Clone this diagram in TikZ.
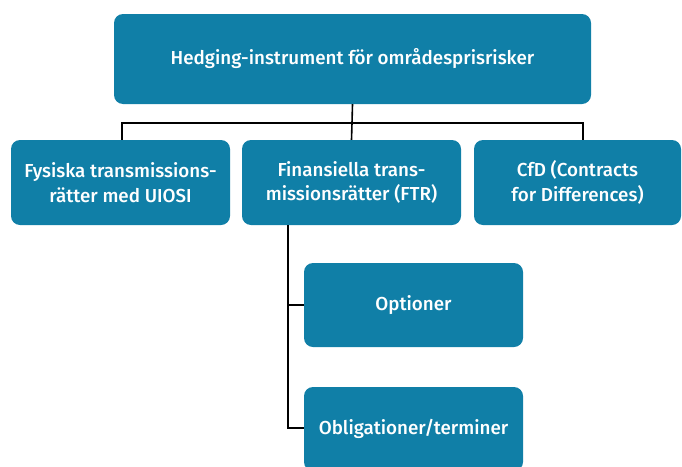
\documentclass[tikz,border=0pt]{standalone}
\usepackage{fontspec}
\setmainfont{Fira Sans}[UprightFont=* Medium]
\definecolor{boxblue}{RGB}{16,127,167}
\tikzset{
  box/.style={fill=boxblue, rounded corners=9pt, text=white, align=center,
    font=\fontsize{18.8}{24.5}\selectfont, inner sep=0pt},
  link/.style={draw=black, line width=1.6pt}
}
\begin{document}
\begin{tikzpicture}[x=1pt, y=-1pt]
  \useasboundingbox (0,0) rectangle (682,466);
  \begin{scope}
  \clip (0,0) rectangle (682,466);
  % boxes given by their corners
  \node[box, minimum width=477pt, minimum height=90pt] (top) at (352.5,59) {Hedging-instrument för områdesprisrisker};
  \node[box, minimum width=219pt, minimum height=85pt] (fys) at (120.5,182.5) {Fysiska transmissions-\\rätter med UIOSI};
  \node[box, minimum width=219pt, minimum height=85pt] (fin) at (351.5,182.5) {Finansiella trans-\\missionsrätter (FTR)};
  \node[box, minimum width=207pt, minimum height=85pt] (cfd) at (577.5,182.5) {CfD (Contracts\\for Differences)};
  \node[box, minimum width=219pt, minimum height=84pt] (opt) at (413.5,305) {Optioner};
  \node[box, minimum width=219pt, minimum height=84pt] (obl) at (413.5,429) {Obligationer/terminer};
  % connectors
  \coordinate (bus) at (352,123);
  \draw[link] (top.south) -- (bus);
  \draw[link] (fys.north -| 122,0) |- (bus) -| (cfd.north -| 583,0);
  \draw[link] (fin.north) -- (bus);
  \draw[link] (fin.south -| 288,0) |- (opt.west);
  \draw[link] (fin.south -| 288,0) |- (obl.west |- 0,428);
  \end{scope}
\end{tikzpicture}
\end{document}
